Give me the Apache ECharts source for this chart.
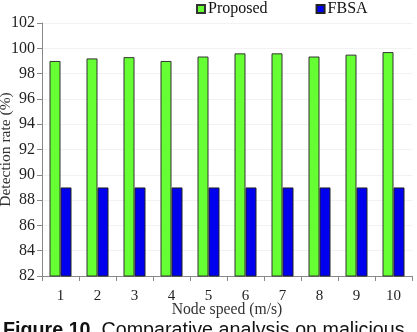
<!DOCTYPE html>
<html>
<head>
<meta charset="utf-8">
<script src="https://cdn.jsdelivr.net/npm/echarts@6/dist/echarts.min.js"></script>
<style>
  html, body { margin: 0; padding: 0; background: #fff; }
  #chart { width: 417px; height: 332px; }
</style>
</head>
<body>
<div id="chart"></div>
<script>
// node speed (m/s)
var speeds = ["1", "2", "3", "4", "5", "6", "7", "8", "9", "10"];
// detection rate (%)
var proposed = [99.0, 99.2, 99.3, 99.0, 99.35, 99.6, 99.6, 99.35, 99.5, 99.7];
var fbsa = [89, 89, 89, 89, 89, 89, 89, 89, 89, 89];

var serif = "'Liberation Serif', 'Times New Roman', serif";

var chart = echarts.init(document.getElementById("chart"));
chart.setOption({
  animation: false,
  legend: {
    left: 191,
    top: -4,
    icon: "rect",
    itemWidth: 8,
    itemHeight: 8,
    itemGap: 48,
    textStyle: { fontFamily: serif, fontSize: 16, color: "#111", padding: [0, 0, 0, -2] },
    data: ["Proposed", "FBSA"]
  },
  grid: { left: 42, right: 5, top: 23, bottom: 56, containLabel: false, outerBoundsMode: "none" },
  xAxis: {
    type: "category",
    data: speeds,
    name: "Node speed (m/s)",
    nameLocation: "middle",
    nameGap: 26,
    nameMoveOverlap: false,
    nameTextStyle: { fontFamily: serif, fontSize: 15.7, color: "#333" },
    axisLine: { lineStyle: { color: "#888", width: 1 } },
    axisTick: { show: true, length: 5, lineStyle: { color: "#888" } },
    axisLabel: { fontFamily: serif, fontSize: 15, color: "#222", margin: 13 },
    splitLine: { show: false }
  },
  yAxis: {
    type: "value",
    min: 82,
    max: 102,
    interval: 2,
    name: "Detection rate (%)",
    nameLocation: "middle",
    nameGap: 28,
    nameMoveOverlap: false,
    nameTextStyle: { fontFamily: serif, fontSize: 15.5, color: "#333" },
    axisLine: { show: true, lineStyle: { color: "#888", width: 1 } },
    axisTick: { show: true, length: 5, lineStyle: { color: "#888" } },
    axisLabel: { fontFamily: serif, fontSize: 16, color: "#222", margin: 7 },
    splitLine: { show: true, lineStyle: { color: "#f2f2f2", width: 1 } }
  },
  series: [
    {
      name: "Proposed",
      type: "bar",
      data: proposed,
      barWidth: 11,
      barGap: "0%",
      itemStyle: { color: "#66ff33", borderColor: "#333", borderWidth: 1 }
    },
    {
      name: "FBSA",
      type: "bar",
      data: fbsa,
      barWidth: 11,
      itemStyle: { color: "#0000ee", borderColor: "#222", borderWidth: 1 }
    }
  ],
  graphic: [
    {
      type: "text",
      left: 3,
      top: 321,
      style: {
        text: "{b|Figure 10.} Comparative analysis on malicious",
        font: "19.7px 'Liberation Sans', Arial, sans-serif",
        fill: "#111",
        rich: {
          b: { fontWeight: "bold", fontSize: 19.7, fontFamily: "'Liberation Sans', Arial, sans-serif", fill: "#111" }
        }
      }
    }
  ]
});
</script>
</body>
</html>
